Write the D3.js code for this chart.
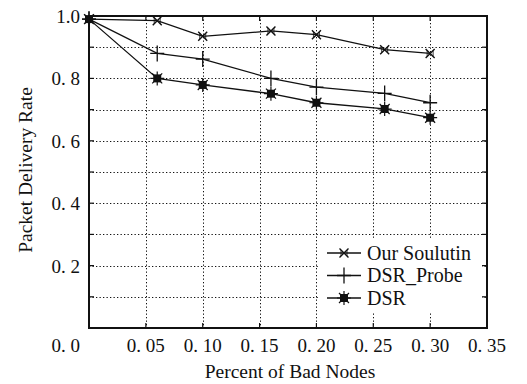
<!DOCTYPE html>
<html>
<head>
<meta charset="utf-8">
<script src="https://cdn.jsdelivr.net/npm/d3@7"></script>
<style>
  body { margin: 0; background: #fff; }
</style>
</head>
<body>
<svg id="chart" width="527" height="384" font-family="'Liberation Serif', 'Times New Roman', serif"></svg>
<script>
// data
var badNodes = [0, 0.06, 0.10, 0.16, 0.20, 0.26, 0.30];
var ourSolution = [0.99, 0.985, 0.935, 0.952, 0.94, 0.892, 0.88];
var dsrProbe = [0.99, 0.88, 0.862, 0.80, 0.772, 0.752, 0.722];
var dsr = [0.99, 0.80, 0.779, 0.751, 0.722, 0.702, 0.674];
var seriesNames = ["Our Soulutin", "DSR_Probe", "DSR"];
var xTicks = [0.05, 0.10, 0.15, 0.20, 0.25, 0.30, 0.35];
var xTickLabels = ["0. 05", "0. 10", "0. 15", "0. 20", "0. 25", "0. 30", "0. 35"];
var yTicks = [0.2, 0.4, 0.6, 0.8, 1.0];
var yTickLabels = ["0. 2", "0. 4", "0. 6", "0. 8", "1.0"];
var yGrid = [0.1, 0.2, 0.3, 0.4, 0.5, 0.6, 0.7, 0.8, 0.9];

var svg = d3.select("#chart");
var pLeft = 89, pRight = 487, pTop = 16, pBottom = 328;
var ink = "#111";

var x = d3.scaleLinear().domain([0, 0.35]).range([pLeft, pRight]);
var y = d3.scaleLinear().domain([0, 1]).range([pBottom, pTop]);

// dotted grid
var grid = svg.append("g").attr("stroke", "#111").attr("stroke-width", 1)
  .attr("stroke-dasharray", "1.3,2.2");
grid.selectAll(".gx").data(xTicks.slice(0, -1)).enter().append("line")
  .attr("x1", function(d) { return Math.round(x(d)) + 0.5; })
  .attr("x2", function(d) { return Math.round(x(d)) + 0.5; })
  .attr("y1", pTop).attr("y2", pBottom);
grid.selectAll(".gy").data(yGrid).enter().append("line")
  .attr("y1", function(d) { return Math.round(y(d)) + 0.5; })
  .attr("y2", function(d) { return Math.round(y(d)) + 0.5; })
  .attr("x1", pLeft).attr("x2", pRight);

// little inward ticks
var ticks = svg.append("g").attr("stroke", ink).attr("stroke-width", 1.2);
xTicks.slice(0, -1).forEach(function(d) {
  ticks.append("line").attr("x1", x(d)).attr("x2", x(d)).attr("y1", pBottom).attr("y2", pBottom - 5);
  ticks.append("line").attr("x1", x(d)).attr("x2", x(d)).attr("y1", pTop).attr("y2", pTop + 5);
});
yGrid.forEach(function(d) {
  ticks.append("line").attr("x1", pLeft).attr("x2", pLeft + 5).attr("y1", y(d)).attr("y2", y(d));
  ticks.append("line").attr("x1", pRight).attr("x2", pRight - 5).attr("y1", y(d)).attr("y2", y(d));
});

// legend background blanks out the grid
svg.append("rect").attr("x", 318).attr("y", 238).attr("width", 164).attr("height", 74)
  .attr("fill", "#fff");

// frame
svg.append("rect").attr("x", pLeft).attr("y", pTop)
  .attr("width", pRight - pLeft).attr("height", pBottom - pTop)
  .attr("fill", "none").attr("stroke", ink).attr("stroke-width", 2);

// tick labels
svg.append("g").selectAll("text").data(xTicks).enter().append("text")
  .attr("x", function(d) { return x(d); })
  .attr("y", 352)
  .attr("text-anchor", "middle")
  .attr("fill", ink)
  .style("font-size", "19px")
  .text(function(d, i) { return xTickLabels[i]; });
svg.append("text").attr("x", 80).attr("y", 352).attr("text-anchor", "end")
  .attr("fill", ink).style("font-size", "19px").text("0. 0");
svg.append("g").selectAll("text").data(yTicks).enter().append("text")
  .attr("x", 80)
  .attr("y", function(d) { return y(d) + 7; })
  .attr("text-anchor", "end")
  .attr("fill", ink)
  .style("font-size", "19px")
  .text(function(d, i) { return yTickLabels[i]; });

// axis titles
svg.append("text").attr("x", 290).attr("y", 378).attr("text-anchor", "middle")
  .attr("fill", ink).style("font-size", "19.5px").text("Percent of Bad Nodes");
svg.append("text").attr("transform", "translate(32,170) rotate(-90)")
  .attr("text-anchor", "middle").attr("fill", ink)
  .style("font-size", "19.5px").text("Packet Delivery Rate");

// markers
var markCross = function(g) {
  g.append("path").attr("d", "M-4.5,-4.5L4.5,4.5M-4.5,4.5L4.5,-4.5")
    .attr("stroke", ink).attr("stroke-width", 1.4).attr("fill", "none");
  g.append("path").attr("d", "M-3,-3L-3,3M3,-3L3,3")
    .attr("stroke", ink).attr("stroke-width", 0.8).attr("fill", "none");
};
var markPlus = function(g) {
  g.append("path").attr("d", "M0,-8L0,8M-7,0L7,0")
    .attr("stroke", ink).attr("stroke-width", 1.3).attr("fill", "none");
};
var markStar = function(g) {
  g.append("rect").attr("x", -4).attr("y", -4).attr("width", 8).attr("height", 8).attr("fill", ink);
  g.append("path").attr("d", "M0,-7L0,7M-7,0L7,0M-5,-5L5,5M-5,5L5,-5")
    .attr("stroke", ink).attr("stroke-width", 1.2);
};
var markers = [markCross, markPlus, markStar];
var allSeries = [ourSolution, dsrProbe, dsr];

var line = d3.line()
  .x(function(d) { return x(d[0]); })
  .y(function(d) { return y(d[1]); });

allSeries.forEach(function(vals, k) {
  var pts = badNodes.map(function(b, i) { return [b, vals[i]]; });
  svg.append("path").datum(pts).attr("d", line)
    .attr("fill", "none").attr("stroke", ink).attr("stroke-width", 1.3);
  svg.selectAll(".m" + k).data(pts).enter().append("g")
    .attr("transform", function(d) { return "translate(" + x(d[0]) + "," + y(d[1]) + ")"; })
    .each(function() { markers[k](d3.select(this)); });
});

// legend
seriesNames.forEach(function(name, k) {
  var ly = 253 + k * 22.5;
  svg.append("line").attr("x1", 327).attr("x2", 361).attr("y1", ly).attr("y2", ly)
    .attr("stroke", ink).attr("stroke-width", 1.3);
  var g = svg.append("g").attr("transform", "translate(344," + ly + ")");
  markers[k](g);
  svg.append("text").attr("x", 367).attr("y", ly + 6.5)
    .attr("fill", ink).style("font-size", "20px").text(name);
});
</script>
</body>
</html>
